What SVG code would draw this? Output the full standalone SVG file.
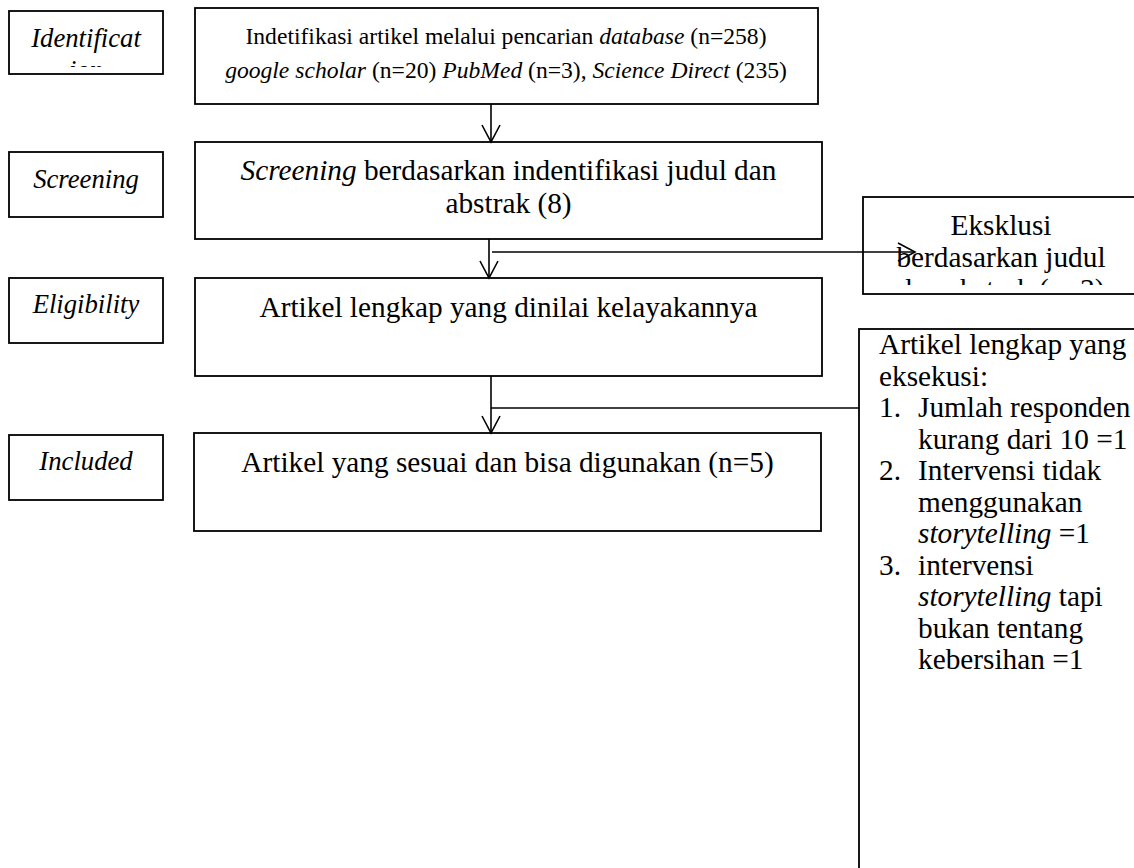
<svg xmlns="http://www.w3.org/2000/svg" width="1134" height="868" viewBox="0 0 1134 868">
<style>
.box{fill:#fff;stroke:#000;stroke-width:1.8}
.t{font-family:"Liberation Serif","Times New Roman",serif;fill:#000}
.m{font-size:29.3px}
.s{font-size:23.6px}
.l{font-size:26.7px;font-style:italic}
.i{font-style:italic}
.c{stroke:#000;stroke-width:1.6;fill:none}
</style>
<defs>
<marker id="ah" viewBox="0 0 20 20" refX="18" refY="10" markerWidth="20" markerHeight="20" markerUnits="userSpaceOnUse" orient="auto">
<path d="M1,1 L18,10 L1,19" fill="none" stroke="#000" stroke-width="1.6"/>
</marker>
<clipPath id="clipId"><rect x="9" y="11" width="154" height="56"/></clipPath>
<clipPath id="clipEx"><rect x="863" y="197" width="280" height="88"/></clipPath>
</defs>
<rect width="1134" height="868" fill="#fff"/>

<g id="lbl-identification">
<rect class="box" x="9" y="11" width="154" height="63"/>
<text class="t l" text-anchor="middle" clip-path="url(#clipId)"><tspan x="86" y="47">Identificat</tspan><tspan x="86" y="79">ion</tspan></text>
</g>
<g id="lbl-screening">
<rect class="box" x="9" y="152" width="154" height="65"/>
<text class="t l" x="86" y="188" text-anchor="middle">Screening</text>
</g>
<g id="lbl-eligibility">
<rect class="box" x="9" y="278" width="154" height="65"/>
<text class="t l" x="86" y="313" text-anchor="middle">Eligibility</text>
</g>
<g id="lbl-included">
<rect class="box" x="9" y="435" width="154" height="65"/>
<text class="t l" x="86" y="470" text-anchor="middle">Included</text>
</g>

<g id="box-identification">
<rect class="box" x="195" y="8" width="623" height="96"/>
<text class="t s" text-anchor="middle"><tspan x="506" y="44">Indetifikasi artikel melalui pencarian <tspan class="i">database</tspan> (n=258)</tspan><tspan x="506" y="78"><tspan class="i">google scholar</tspan> (n=20) <tspan class="i">PubMed</tspan> (n=3), <tspan class="i">Science Direct</tspan> (235)</tspan></text>
</g>
<g id="box-screening">
<rect class="box" x="195" y="142" width="627" height="97"/>
<text class="t m" text-anchor="middle"><tspan x="508.5" y="180"><tspan class="i">Screening</tspan> berdasarkan indentifikasi judul dan</tspan><tspan x="508.5" y="213">abstrak (8)</tspan></text>
</g>
<g id="box-eligibility">
<rect class="box" x="195" y="278" width="627" height="98"/>
<text class="t m" x="508.5" y="317" text-anchor="middle">Artikel lengkap yang dinilai kelayakannya</text>
</g>
<g id="box-included">
<rect class="box" x="194" y="433" width="627" height="98"/>
<text class="t m" x="507.5" y="472" text-anchor="middle">Artikel yang sesuai dan bisa digunakan (n=5)</text>
</g>
<g id="box-exclusion-1">
<rect class="box" x="863" y="197" width="290" height="97"/>
<text class="t m" text-anchor="middle" clip-path="url(#clipEx)"><tspan x="1001" y="235">Eksklusi</tspan><tspan x="1001" y="267">berdasarkan judul</tspan><tspan x="1001" y="299">dan abstrak (n=3)</tspan></text>
</g>
<g id="box-exclusion-2">
<rect class="box" x="859" y="329" width="300" height="560"/>
<text class="t m">
<tspan x="879" y="354">Artikel lengkap yang</tspan>
<tspan x="879" y="385.5">eksekusi:</tspan>
<tspan x="879" y="417">1.</tspan><tspan x="918" y="417">Jumlah responden</tspan>
<tspan x="918" y="448.5">kurang dari 10 =1</tspan>
<tspan x="879" y="480">2.</tspan><tspan x="918" y="480">Intervensi tidak</tspan>
<tspan x="918" y="511.5">menggunakan</tspan>
<tspan x="918" y="543"><tspan class="i">storytelling</tspan> =1</tspan>
<tspan x="879" y="574.5">3.</tspan><tspan x="918" y="574.5">intervensi</tspan>
<tspan x="918" y="606"><tspan class="i">storytelling</tspan> tapi</tspan>
<tspan x="918" y="637.5">bukan tentang</tspan>
<tspan x="918" y="669">kebersihan =1</tspan>
</text>
</g>

<g id="connectors">
<line class="c" x1="491" y1="104" x2="491" y2="142" marker-end="url(#ah)"/>
<line class="c" x1="489" y1="239" x2="489" y2="278" marker-end="url(#ah)"/>
<line class="c" x1="492" y1="252" x2="915" y2="252" marker-end="url(#ah)"/>
<line class="c" x1="491" y1="376" x2="491" y2="433" stroke-width="2.4" marker-end="url(#ah)"/>
<line class="c" x1="491" y1="408" x2="859" y2="408"/>
</g>
</svg>
